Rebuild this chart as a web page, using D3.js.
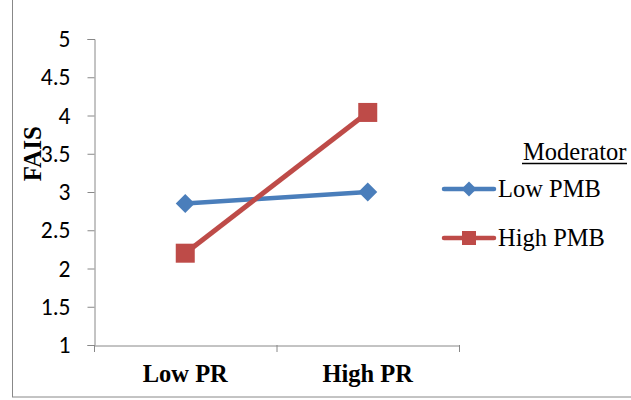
<!DOCTYPE html>
<html>
<head>
<meta charset="utf-8">
<script src="https://cdn.jsdelivr.net/npm/d3@7"></script>
<style>
  body { margin: 0; background: #fff; }
  svg { display: block; }
</style>
</head>
<body>
<div id="chart"></div>
<script>
// Chart data
const categories = ["Low PR", "High PR"];
const seriesNames = ["Low PMB", "High PMB"];
const lowPMB = [2.85, 3.00];
const highPMB = [2.20, 4.04];
const yTicks = [1, 1.5, 2, 2.5, 3, 3.5, 4, 4.5, 5];

const W = 631, H = 400;
const COLORS = ["#4a7ebb", "#be4b48"];
const SERIF = "'Liberation Serif', 'Times New Roman', serif";

const svg = d3.select("#chart").append("svg")
    .attr("width", W).attr("height", H);

// outer frame
svg.append("rect")
    .attr("x", 12.5).attr("y", -5)
    .attr("width", W + 10).attr("height", 402)
    .attr("fill", "none")
    .attr("stroke", "#888")
    .attr("stroke-width", 1);

const plot = { left: 94, right: 459, top: 39, bottom: 345 };

const y = d3.scaleLinear().domain([1, 5]).range([plot.bottom, plot.top]);
const x = d3.scaleBand().domain(categories).range([plot.left, plot.right]);
const xc = d => x(d) + x.bandwidth() / 2;

// y axis
const yAxis = svg.append("g")
    .attr("transform", `translate(${plot.left + 0.5},0)`)
    .call(d3.axisLeft(y).tickValues(yTicks).tickSize(7).tickPadding(17)
        .tickFormat(d3.format("")));
yAxis.select(".domain").attr("stroke", "#888");
yAxis.selectAll(".tick line").attr("stroke", "#888");
yAxis.selectAll("text")
    .attr("font-family", "Carlito, 'Open Sans', sans-serif")
    .attr("font-size", "23.5px")
    .attr("fill", "#000");

// x axis
const xAxis = svg.append("g")
    .attr("transform", `translate(0,${plot.bottom + 0.5})`)
    .call(d3.axisBottom(x).tickSize(0).tickPadding(19));
xAxis.select(".domain").attr("stroke", "#888");
xAxis.selectAll("text")
    .attr("font-family", SERIF)
    .attr("font-weight", "bold")
    .attr("font-size", "24.5px")
    .attr("fill", "#000");
// category boundary ticks
[plot.left, plot.left + x.bandwidth(), plot.right].forEach(px => {
    svg.append("line")
        .attr("x1", px + 0.5).attr("x2", px + 0.5)
        .attr("y1", plot.bottom).attr("y2", plot.bottom + 7)
        .attr("stroke", "#888");
});

// y axis title
svg.append("text")
    .attr("transform", `translate(41,${y(3.5)}) rotate(-90)`)
    .attr("text-anchor", "middle")
    .attr("font-family", SERIF)
    .attr("font-weight", "bold")
    .attr("font-size", "25px")
    .text("FAIS");

// lines
const line = d3.line().x((d, i) => xc(categories[i])).y(d => y(d));
[lowPMB, highPMB].forEach((vals, s) => {
    svg.append("path")
        .datum(vals)
        .attr("d", line)
        .attr("fill", "none")
        .attr("stroke", COLORS[s])
        .attr("stroke-width", s === 0 ? 4.5 : 5);
});

// markers
function marker(g, s, cx, cy, r) {
    if (s === 0) {
        g.append("path")
            .attr("d", `M${cx},${cy - r}L${cx + r},${cy}L${cx},${cy + r}L${cx - r},${cy}Z`)
            .attr("fill", COLORS[0]);
    } else {
        g.append("rect")
            .attr("x", cx - r).attr("y", cy - r)
            .attr("width", 2 * r).attr("height", 2 * r)
            .attr("fill", COLORS[1]);
    }
}
lowPMB.forEach((v, i) => marker(svg, 0, xc(categories[i]), y(v), 9.5));
highPMB.forEach((v, i) => marker(svg, 1, xc(categories[i]), y(v), 9.5));

// legend
const lg = svg.append("g");
lg.append("text")
    .attr("x", 523).attr("y", 160)
    .attr("font-family", SERIF)
    .attr("font-size", "24.5px")
    .text("Moderator");
lg.append("line")
    .attr("x1", 522).attr("x2", 627)
    .attr("y1", 163.5).attr("y2", 163.5)
    .attr("stroke", "#000").attr("stroke-width", 1.5);

seriesNames.forEach((name, s) => {
    const ly = 189 + s * 49;
    lg.append("line")
        .attr("x1", 444).attr("x2", 494)
        .attr("y1", ly).attr("y2", ly)
        .attr("stroke", COLORS[s])
        .attr("stroke-width", 4.5)
        .attr("stroke-linecap", "round");
    marker(lg, s, 469, ly, s === 0 ? 7.5 : 7);
    lg.append("text")
        .attr("x", 498).attr("y", ly + 8)
        .attr("font-family", SERIF)
        .attr("font-size", "24.5px")
        .text(name);
});
</script>
</body>
</html>
